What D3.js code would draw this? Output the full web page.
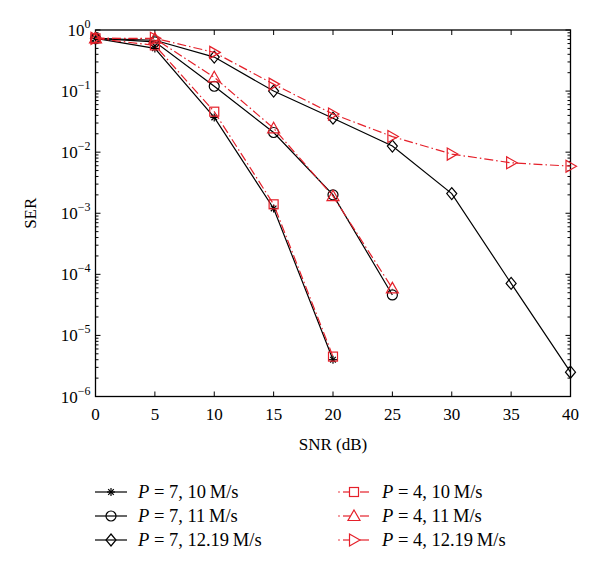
<!DOCTYPE html>
<html><head><meta charset="utf-8">
<script src="https://cdn.jsdelivr.net/npm/d3@7"></script>
<style>body{margin:0;background:#fff;} svg{display:block;} text{font-family:"Liberation Serif","DejaVu Serif",serif;}</style>
</head><body>
<script>
const snr = [0, 5, 10, 15, 20, 25, 30, 35, 40];
const xTicks = [0, 5, 10, 15, 20, 25, 30, 35, 40];
const yTickExps = [0, -1, -2, -3, -4, -5, -6];

const serP7_10 = [0.73, 0.50, 0.037, 0.0012, 4.0e-6];
const serP7_11 = [0.73, 0.64, 0.12, 0.021, 0.0020, 4.6e-5];
const serP7_1219 = [0.73, 0.68, 0.36, 0.10, 0.036, 0.0126, 0.0021, 7.1e-5, 2.5e-6];
const serP4_10 = [0.73, 0.56, 0.046, 0.0014, 4.5e-6];
const serP4_11 = [0.73, 0.72, 0.168, 0.0246, 0.0019, 5.9e-5];
const serP4_1219 = [0.73, 0.73, 0.43, 0.13, 0.042, 0.018, 0.0093, 0.0067, 0.0059];

const RED = "#e5202a";
const DASH = "9,3,1.5,3";
const series = [
  {vals: serP7_10, color:"#000", dash:null, marker:"star", speed:"10", p:"7"},
  {vals: serP7_11, color:"#000", dash:null, marker:"circle", speed:"11", p:"7"},
  {vals: serP7_1219, color:"#000", dash:null, marker:"diamond", speed:"12.19", p:"7"},
  {vals: serP4_10, color:RED, dash:DASH, marker:"square", speed:"10", p:"4"},
  {vals: serP4_11, color:RED, dash:DASH, marker:"triangle", speed:"11", p:"4"},
  {vals: serP4_1219, color:RED, dash:DASH, marker:"tright", speed:"12.19", p:"4"}
];

const W = 600, H = 583;
const m = {left: 95.5, right: 29.5, top: 30, bottom: 186.5};
const FONT = "Liberation Serif, DejaVu Serif, serif";
const svg = d3.select("body").append("svg").attr("width", W).attr("height", H)
  .attr("font-family", FONT);

const x = d3.scaleLinear().domain([0, 40]).range([m.left, W - m.right]);
const y = d3.scaleLog().domain([1e-6, 1]).range([H - m.bottom, m.top]);

const x0 = x(0), x1 = x(40), y0 = y(1e-6), y1 = y(1);

svg.append("rect").attr("x", x0).attr("y", y1).attr("width", x1 - x0).attr("height", y0 - y1)
  .attr("fill", "none").attr("stroke", "#000").attr("stroke-width", 1.3);

const g = svg.append("g").attr("stroke", "#000").attr("stroke-width", 1);
xTicks.forEach(t => {
  g.append("line").attr("x1", x(t)).attr("x2", x(t)).attr("y1", y0).attr("y2", y0 - 5);
  g.append("line").attr("x1", x(t)).attr("x2", x(t)).attr("y1", y1).attr("y2", y1 + 5);
});
yTickExps.forEach(e => {
  const v = Math.pow(10, e);
  g.append("line").attr("x1", x0).attr("x2", x0 + 5).attr("y1", y(v)).attr("y2", y(v));
  g.append("line").attr("x1", x1).attr("x2", x1 - 5).attr("y1", y(v)).attr("y2", y(v));
  if (e < 0) {
    for (let k = 2; k <= 9; k++) {
      const mv = k * v;
      g.append("line").attr("x1", x0).attr("x2", x0 + 3).attr("y1", y(mv)).attr("y2", y(mv));
      g.append("line").attr("x1", x1).attr("x2", x1 - 3).attr("y1", y(mv)).attr("y2", y(mv));
    }
  }
});

svg.append("g").selectAll("text").data(xTicks).join("text")
  .attr("x", d => x(d)).attr("y", y0 + 23).attr("text-anchor", "middle")
  .attr("font-family", FONT).attr("font-size", 17).text(d => d);

const yl = svg.append("g");
yTickExps.forEach(e => {
  const t = yl.append("text").attr("x", x0 - 5).attr("y", y(Math.pow(10, e)) + 6)
    .attr("text-anchor", "end").attr("font-family", FONT).attr("font-size", 17);
  t.append("tspan").text("10");
  t.append("tspan").attr("dy", -8).attr("font-size", 12).text(e === 0 ? "0" : "\u2212" + (-e));
});

svg.append("text").attr("x", (x0 + x1) / 2).attr("y", y0 + 53).attr("text-anchor", "middle")
  .attr("font-family", FONT).attr("font-size", 17).text("SNR (dB)");
svg.append("text").attr("transform", `translate(36,${(y0 + y1) / 2}) rotate(-90)`)
  .attr("text-anchor", "middle").attr("font-family", FONT).attr("font-size", 17).text("SER");

function drawMarker(sel, type, cx, cy, color) {
  const s = sel.append("g").attr("transform", `translate(${cx},${cy})`)
    .attr("fill", "none").attr("stroke", color).attr("stroke-width", 1.2);
  if (type === "star") {
    const r = 4;
    s.append("line").attr("x1", -r).attr("x2", r).attr("y1", 0).attr("y2", 0);
    s.append("line").attr("x1", 0).attr("x2", 0).attr("y1", -r).attr("y2", r);
    s.append("line").attr("x1", -r*0.7).attr("x2", r*0.7).attr("y1", -r*0.7).attr("y2", r*0.7);
    s.append("line").attr("x1", -r*0.7).attr("x2", r*0.7).attr("y1", r*0.7).attr("y2", -r*0.7);
  } else if (type === "circle") {
    s.append("circle").attr("r", 5);
  } else if (type === "diamond") {
    s.append("path").attr("d", "M0,-6L5,0L0,6L-5,0Z");
  } else if (type === "square") {
    s.append("rect").attr("x", -4.5).attr("y", -4.5).attr("width", 9).attr("height", 9);
  } else if (type === "triangle") {
    s.append("path").attr("d", "M0,-6L6,4.5L-6,4.5Z");
  } else if (type === "tright") {
    s.append("path").attr("d", "M6,0L-4.5,-6L-4.5,6Z");
  }
}

const line = d3.line().x((d, i) => x(snr[i])).y(d => y(d));
series.forEach(s => {
  svg.append("path").datum(s.vals).attr("d", line).attr("fill", "none")
    .attr("stroke", s.color).attr("stroke-width", 1.2)
    .attr("stroke-dasharray", s.dash);
  s.vals.forEach((v, i) => drawMarker(svg, s.marker, x(snr[i]), y(v), s.color));
});

const legRows = [492, 516, 540];
const legCols = [{lx: 95, tx: 138}, {lx: 338, tx: 382}];
series.forEach((s, i) => {
  const col = legCols[Math.floor(i / 3)];
  const ry = legRows[i % 3];
  if (s.dash) {
    svg.append("circle").attr("cx", col.lx + 1).attr("cy", ry).attr("r", 0.8).attr("fill", s.color);
    svg.append("line").attr("x1", col.lx + 5).attr("x2", col.lx + 12).attr("y1", ry).attr("y2", ry)
      .attr("stroke", s.color).attr("stroke-width", 1.2);
    svg.append("line").attr("x1", col.lx + 22).attr("x2", col.lx + 31).attr("y1", ry).attr("y2", ry)
      .attr("stroke", s.color).attr("stroke-width", 1.2);
  } else {
    svg.append("line").attr("x1", col.lx).attr("x2", col.lx + 32).attr("y1", ry).attr("y2", ry)
      .attr("stroke", s.color).attr("stroke-width", 1.2);
  }
  drawMarker(svg, s.marker, col.lx + 16, ry, s.color);
  const t = svg.append("text").attr("x", col.tx).attr("y", ry + 6)
    .attr("font-family", FONT).attr("font-size", 18.5);
  t.append("tspan").attr("font-style", "italic").text("P");
  t.append("tspan").text(" = " + s.p + ", " + s.speed + "\u2009M/s");
});
</script>
</body></html>
